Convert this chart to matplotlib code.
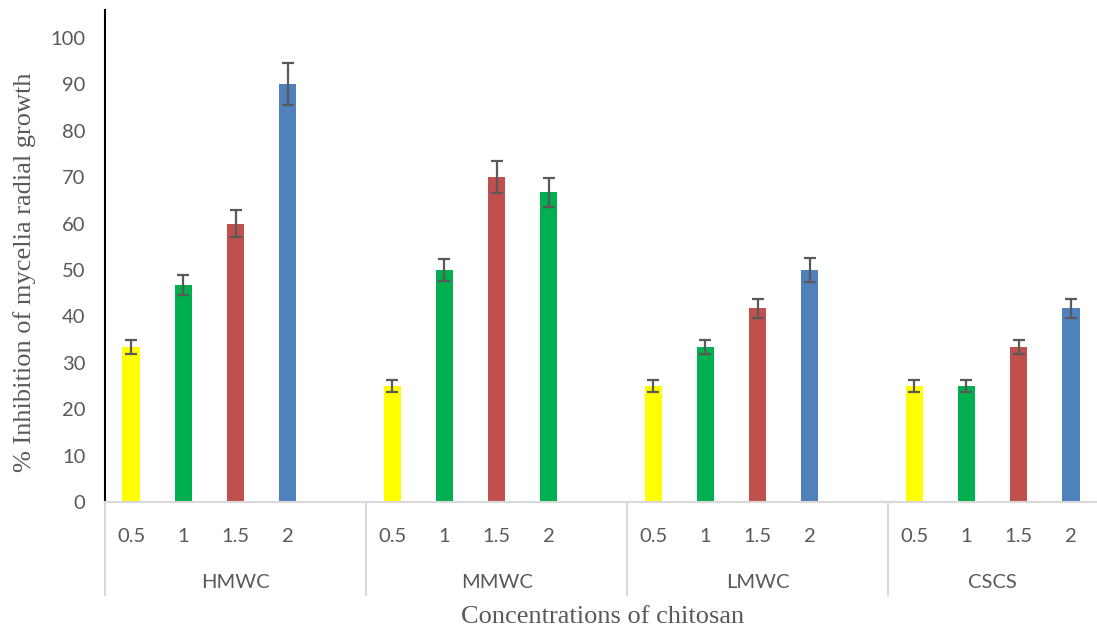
import matplotlib
matplotlib.use("Agg")
import matplotlib.pyplot as plt
import numpy as np

# Inhibition (%) per chitosan type at each concentration
groups = ['HMWC', 'MMWC', 'LMWC', 'CSCS']
concs = ['0.5', '1', '1.5', '2']

hmwc = [33.3, 46.7, 60.0, 90.0]
mmwc = [25.0, 50.0, 70.0, 66.7]
lmwc = [25.0, 33.3, 41.7, 50.0]
cscs = [25.0, 25.0, 33.3, 41.7]

hmwc_err = [1.5, 2.2, 3.0, 4.5]
mmwc_err = [1.2, 2.4, 3.5, 3.2]
lmwc_err = [1.2, 1.5, 2.0, 2.5]
cscs_err = [1.2, 1.2, 1.5, 2.0]

yellow, green, red, blue = '#FFFF00', '#00B050', '#C0504D', '#4F81BD'
bar_colors = [
    [yellow, green, red, blue],
    [yellow, green, red, green],
    [yellow, green, red, blue],
    [yellow, green, red, blue],
]

values = [hmwc, mmwc, lmwc, cscs]
errors = [hmwc_err, mmwc_err, lmwc_err, cscs_err]

grey = '#595959'
light = '#D9D9D9'

fig = plt.figure(figsize=(10.97, 6.34), dpi=100)
ax = fig.add_axes([105 / 1097, 132 / 634, 1 - 105 / 1097, 492 / 634])

# each group takes 5 slots (4 bars + a blank one), the last group only 4
slot = 0
starts = []
for g, vals in enumerate(values):
    starts.append(slot)
    xs = np.arange(slot, slot + len(vals))
    ax.bar(xs, vals, width=0.33, color=bar_colors[g], zorder=2)
    ax.errorbar(xs, vals, yerr=errors[g], fmt='none', ecolor=grey,
                elinewidth=1.6, capsize=4.3, capthick=1.6, zorder=3)
    slot += len(vals) + (1 if g < len(values) - 1 else 0)
n_slots = slot

ax.set_xlim(-0.5, n_slots - 0.5)
ax.set_ylim(0, 106)
ax.set_yticks(np.arange(0, 101, 10))
ax.tick_params(axis='y', length=0, pad=14, labelsize=14.5, labelcolor=grey)
ax.set_xticks([])

for side in ['top', 'right']:
    ax.spines[side].set_visible(False)
ax.spines['left'].set_color('black')
ax.spines['left'].set_linewidth(1.5)
ax.spines['bottom'].set_color(light)
ax.spines['bottom'].set_linewidth(1.5)

# two-level category axis: concentrations, then chitosan type
tr = ax.get_xaxis_transform()
bounds = [s - 0.5 for s in starts] + [n_slots - 0.5]
for g, s in enumerate(starts):
    for i, c in enumerate(concs):
        ax.text(s + i, -0.071, c, transform=tr, ha='center', va='center',
                fontsize=14.5, color=grey, family='Lato')
    ax.text((bounds[g] + bounds[g + 1]) / 2, -0.163, groups[g], transform=tr,
            ha='center', va='center', fontsize=14.5, color=grey, family='Lato')
    ax.plot([bounds[g], bounds[g]], [0, -0.189], transform=tr, color=light,
            lw=1.5, clip_on=False)

fig.text(25 / 1097, 1 - 272 / 634, '% Inhibition of mycelia radial growth',
         rotation=90, ha='center', va='center', family='Liberation Serif',
         fontsize=19, color=grey)
fig.text(603 / 1097, 1 - 617 / 634, 'Concentrations of chitosan', ha='center',
         va='center', family='Liberation Serif', fontsize=19, color=grey)

for lab in ax.get_yticklabels():
    lab.set_family('Lato')

fig.savefig('out.png', dpi=100)
